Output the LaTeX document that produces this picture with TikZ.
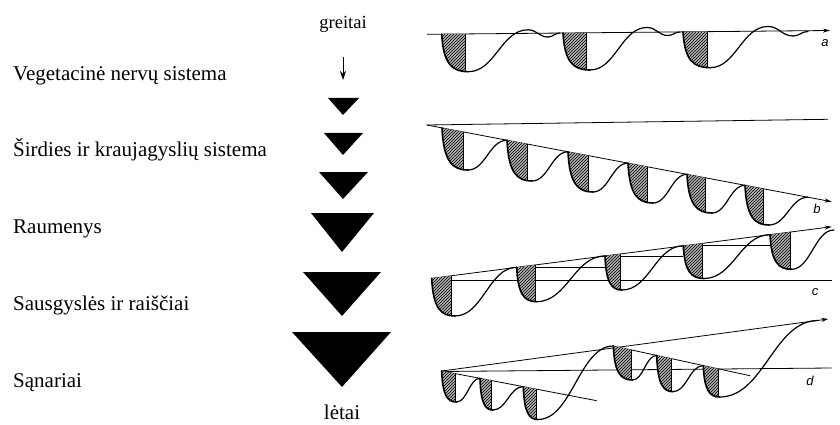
\documentclass[tikz,border=0pt]{standalone}
\usepackage{fontspec}
\setmainfont{Liberation Serif}
\newfontfamily\lblfont{Liberation Sans}
\usetikzlibrary{arrows.meta,patterns}
\tikzset{
  wave/.style={line width=1.2pt, line cap=round, line join=round},
  drop/.style={line width=1.6pt, line cap=round, line join=round},
  axisline/.style={line width=0.8pt},
  axisarrow/.style={line width=0.8pt, -{Stealth[length=7pt,width=4pt]}},
  shadeline/.style={line width=1pt},
  lbl/.style={anchor=base west, inner sep=0pt, font=\fontsize{21}{25}\selectfont},
  grlbl/.style={inner sep=0pt, font=\lblfont\itshape\fontsize{13}{15}\selectfont},
  tri/.style={fill=black}
}
% trough: #1,#2 start; #3 shade x; #4,#5 minimum; #6 line y at x=#4
\newcommand\trough[6]{%
  \begin{scope}
    \clip (#1,#2) .. controls ({#1+0.06*(#4-#1)},{#2+0.8*(#5-#2)}) and ({#1+0.4*(#4-#1)},#5) .. (#4,#5) -- (#4,#6) -- cycle;
    \fill[black!30] ({#1-3},{#2-30}) rectangle (#3,{#5+5});
    \fill[pattern=north east lines] ({#1-3},{#2-30}) rectangle (#3,{#5+5});
    \draw[shadeline] (#3,{#2-30}) -- (#3,{#5+30});
  \end{scope}
  \draw[drop] (#1,#2) .. controls ({#1+0.06*(#4-#1)},{#2+0.8*(#5-#2)}) and ({#1+0.4*(#4-#1)},#5) .. (#4,#5);}
% S-shaped rise from (#1,#2) to (#3,#4)
\newcommand\rise[4]{%
  \draw[wave] (#1,#2) .. controls ({#1+0.45*(#3-#1)},#2) and ({#3-0.45*(#3-#1)},#4) .. (#3,#4);}
\begin{document}
\begin{tikzpicture}[x=1pt,y=-1pt]
\useasboundingbox (0,0) rectangle (840,425);

% ---------- left labels ----------
\node[lbl] (l1) at (13,81) {Vegetacinė nervų sistema};
\node[lbl] (l2) at (13,157) {Širdies ir kraujagyslių sistema};
\node[lbl] (l3) at (13,233) {Raumenys};
\node[lbl] (l4) at (13,310) {Sausgyslės ir raiščiai};
\node[lbl] (l5) at (13,387) {Sąnariai};

% ---------- middle column ----------
\node[anchor=base, inner sep=0pt, font=\fontsize{18.5}{22}\selectfont] (fast) at (343,29) {greitai};
\node[anchor=base, inner sep=0pt, font=\fontsize{21}{24}\selectfont] (slow) at (342,419) {lėtai};
\coordinate (arrS) at (343,57);
\coordinate (arrE) at (343,80);
\draw[line width=1pt, -{Stealth[length=9pt,width=6pt]}] (arrS) -- (arrE);
\fill[tri] (328,98) -- (359,98) -- (343,115) -- cycle;
\fill[tri] (324,133) -- (363,133) -- (343,155) -- cycle;
\fill[tri] (319,172) -- (368,172) -- (343,199) -- cycle;
\fill[tri] (311,213) -- (374,213) -- (342,252) -- cycle;
\fill[tri] (303,272) -- (381,272) -- (342,316) -- cycle;
\fill[tri] (292,332) -- (391,332) -- (342,387) -- cycle;

% ---------- graph a ----------
\coordinate (a0) at (427,34.3);
\coordinate (a1) at (830,30.5);
\draw[axisarrow] (a0) -- (a1);
\node[grlbl] (la) at (825,43) {a};
\trough{441.7}{34.2}{465}{468.3}{71.7}{33.9}
\rise{468.3}{71.7}{528}{29.8}
\rise{528}{29.8}{548}{37}
\rise{548}{37}{560}{33.0}
\trough{563}{33.0}{586}{590}{70}{32.7}
\rise{590}{70}{647}{27.5}
\rise{647}{27.5}{668}{35.5}
\rise{668}{35.5}{680}{32}
\trough{683}{31.9}{707}{710}{67.7}{31.6}
\rise{710}{67.7}{768}{26.5}
\rise{768}{26.5}{793}{36}
\rise{793}{36}{808}{31.5}

% ---------- graph b ----------
\coordinate (b0) at (426.7,125);
\coordinate (b1) at (828,119.3);
\coordinate (b2) at (831.7,201.7);
\draw[axisline] (b0) -- (b1);
\draw[axisarrow] (b0) -- (b2);
\node[grlbl] (lb) at (817,209) {b};
\trough{442}{127.9}{463}{468}{170}{132.8}
\rise{468}{170}{507}{140.2}
\trough{507}{140.2}{527}{532}{181}{144.9}
\rise{532}{181}{568}{151.8}
\trough{568}{151.8}{588}{593}{192}{156.5}
\rise{593}{192}{628}{163.1}
\trough{628}{163.1}{647}{653}{203}{167.9}
\rise{653}{203}{687}{174.3}
\trough{687}{174.3}{705}{712}{213}{179.0}
\rise{712}{213}{745}{185.3}
\trough{745}{185.3}{763}{769}{225}{190.0}
\rise{769}{225}{808}{197.2}

% ---------- graph c ----------
\coordinate (c0) at (431.7,280.5);
\coordinate (c1) at (831.7,280.5);
\coordinate (c2) at (431.7,278.3);
\coordinate (c3) at (831.7,226.7);
\draw[axisline] (c0) -- (c1);
\draw[axisarrow] (c2) -- (c3);
\node[grlbl] (lc) at (815,292) {c};
\draw[axisline] (516.7,267.3) -- (605,267.3);
\draw[axisline] (605,256) -- (683.3,256);
\draw[axisline] (683.3,245.8) -- (770,245.8);
\draw[axisline] (770,234.7) -- (791,234.7);
\trough{431.7}{278.3}{451.7}{455}{316}{275.3}
\rise{455}{316}{516.7}{267.3}
\trough{516.7}{267.3}{535}{536.5}{301.7}{264.8}
\rise{536.5}{301.7}{605}{256}
\trough{605}{256}{620}{622}{290}{253.7}
\rise{622}{290}{683.3}{245.8}
\trough{683.3}{245.8}{702.7}{704}{278.5}{243.2}
\rise{704}{278.5}{770}{234.7}
\trough{770}{234.7}{790}{791.5}{269.3}{232.0}
\rise{791.5}{269.3}{834}{230}

% ---------- graph d ----------
\coordinate (d0) at (441.7,371.5);
\coordinate (d1) at (831.7,368);
\coordinate (d2) at (441.7,371);
\coordinate (d3) at (828.3,319);
\coordinate (d4) at (596.7,400.7);
\coordinate (d5) at (613.3,346);
\coordinate (d6) at (750,375.7);
\draw[axisline] (d0) -- (d1);
\draw[axisarrow] (d2) -- (d3);
\draw[axisline] (d2) -- (d4);
\draw[axisline] (d5) -- (d6);
\node[grlbl] (ld) at (810,381) {d};
\trough{441.7}{371}{455}{456.5}{402}{373.7}
\rise{456.5}{402}{480}{378.3}
\trough{480}{378.3}{491.7}{493}{410}{380.8}
\rise{493}{410}{523.3}{386.6}
\trough{523.3}{386.6}{536.7}{538}{419.5}{389.5}
\rise{538}{419.5}{613.3}{346}
\trough{613.3}{346}{631}{632.5}{380}{350.1}
\rise{632.5}{380}{656.7}{355.4}
\trough{656.7}{355.4}{671.7}{673}{391.7}{359.0}
\rise{673}{391.7}{703.3}{365.6}
\trough{703.3}{365.6}{718.3}{719.7}{397}{369.0}
\rise{719.7}{397}{818}{320.5}
\end{tikzpicture}
\end{document}
